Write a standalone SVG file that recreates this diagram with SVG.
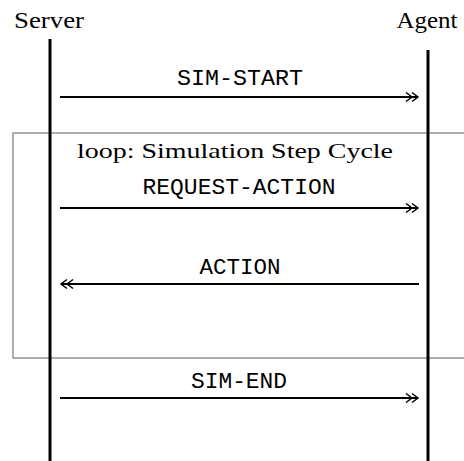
<svg xmlns="http://www.w3.org/2000/svg" width="464" height="461" viewBox="0 0 464 461">
<style>
.actor{font-family:"Liberation Serif","DejaVu Serif",serif;font-size:23px;fill:#000}
.title{font-family:"Liberation Serif","DejaVu Serif",serif;font-size:22px;fill:#000}
.msg{font-family:"Liberation Mono","DejaVu Sans Mono",monospace;font-size:22px;fill:#000}
.life{stroke:#000;stroke-width:3;fill:none}
.arrow{stroke:#000;stroke-width:2;fill:none}
.frame{stroke:#777;stroke-width:1.2;fill:none}
</style>
<defs>
<marker id="dbl" viewBox="-14 -7 16 14" refX="0" refY="0" markerWidth="16" markerHeight="14" markerUnits="userSpaceOnUse" orient="auto-start-reverse">
<path d="M-12,-4.5 L-6,0 L-12,4.5 M-6,-4.5 L0,0 L-6,4.5" fill="none" stroke="#000" stroke-width="1.5"/>
</marker>
</defs>
<g id="loop-frame">
<rect class="frame" x="13" y="133" width="460" height="225"/>
<text class="title" x="235" y="158" text-anchor="middle" textLength="316" lengthAdjust="spacingAndGlyphs">loop: Simulation Step Cycle</text>
</g>
<g id="server">
<text class="actor" x="49" y="28" text-anchor="middle" textLength="70" lengthAdjust="spacingAndGlyphs">Server</text>
<line class="life" x1="50" y1="39" x2="50" y2="461"/>
</g>
<g id="agent">
<text class="actor" x="427" y="28" text-anchor="middle" textLength="61" lengthAdjust="spacingAndGlyphs">Agent</text>
<line class="life" x1="428" y1="50" x2="428" y2="461"/>
</g>
<g id="connectors">
<line class="arrow" x1="60" y1="97" x2="418" y2="97" marker-end="url(#dbl)"/>
<text class="msg" x="240" y="85" text-anchor="middle" textLength="126" lengthAdjust="spacingAndGlyphs">SIM-START</text>
<line class="arrow" x1="60" y1="208" x2="418" y2="208" marker-end="url(#dbl)"/>
<text class="msg" x="239" y="194" text-anchor="middle" textLength="193" lengthAdjust="spacingAndGlyphs">REQUEST-ACTION</text>
<line class="arrow" x1="419" y1="284" x2="61" y2="284" marker-end="url(#dbl)"/>
<text class="msg" x="240" y="274" text-anchor="middle" textLength="81" lengthAdjust="spacingAndGlyphs">ACTION</text>
<line class="arrow" x1="60" y1="398" x2="418" y2="398" marker-end="url(#dbl)"/>
<text class="msg" x="239" y="388" text-anchor="middle" textLength="96" lengthAdjust="spacingAndGlyphs">SIM-END</text>
</g>
</svg>
